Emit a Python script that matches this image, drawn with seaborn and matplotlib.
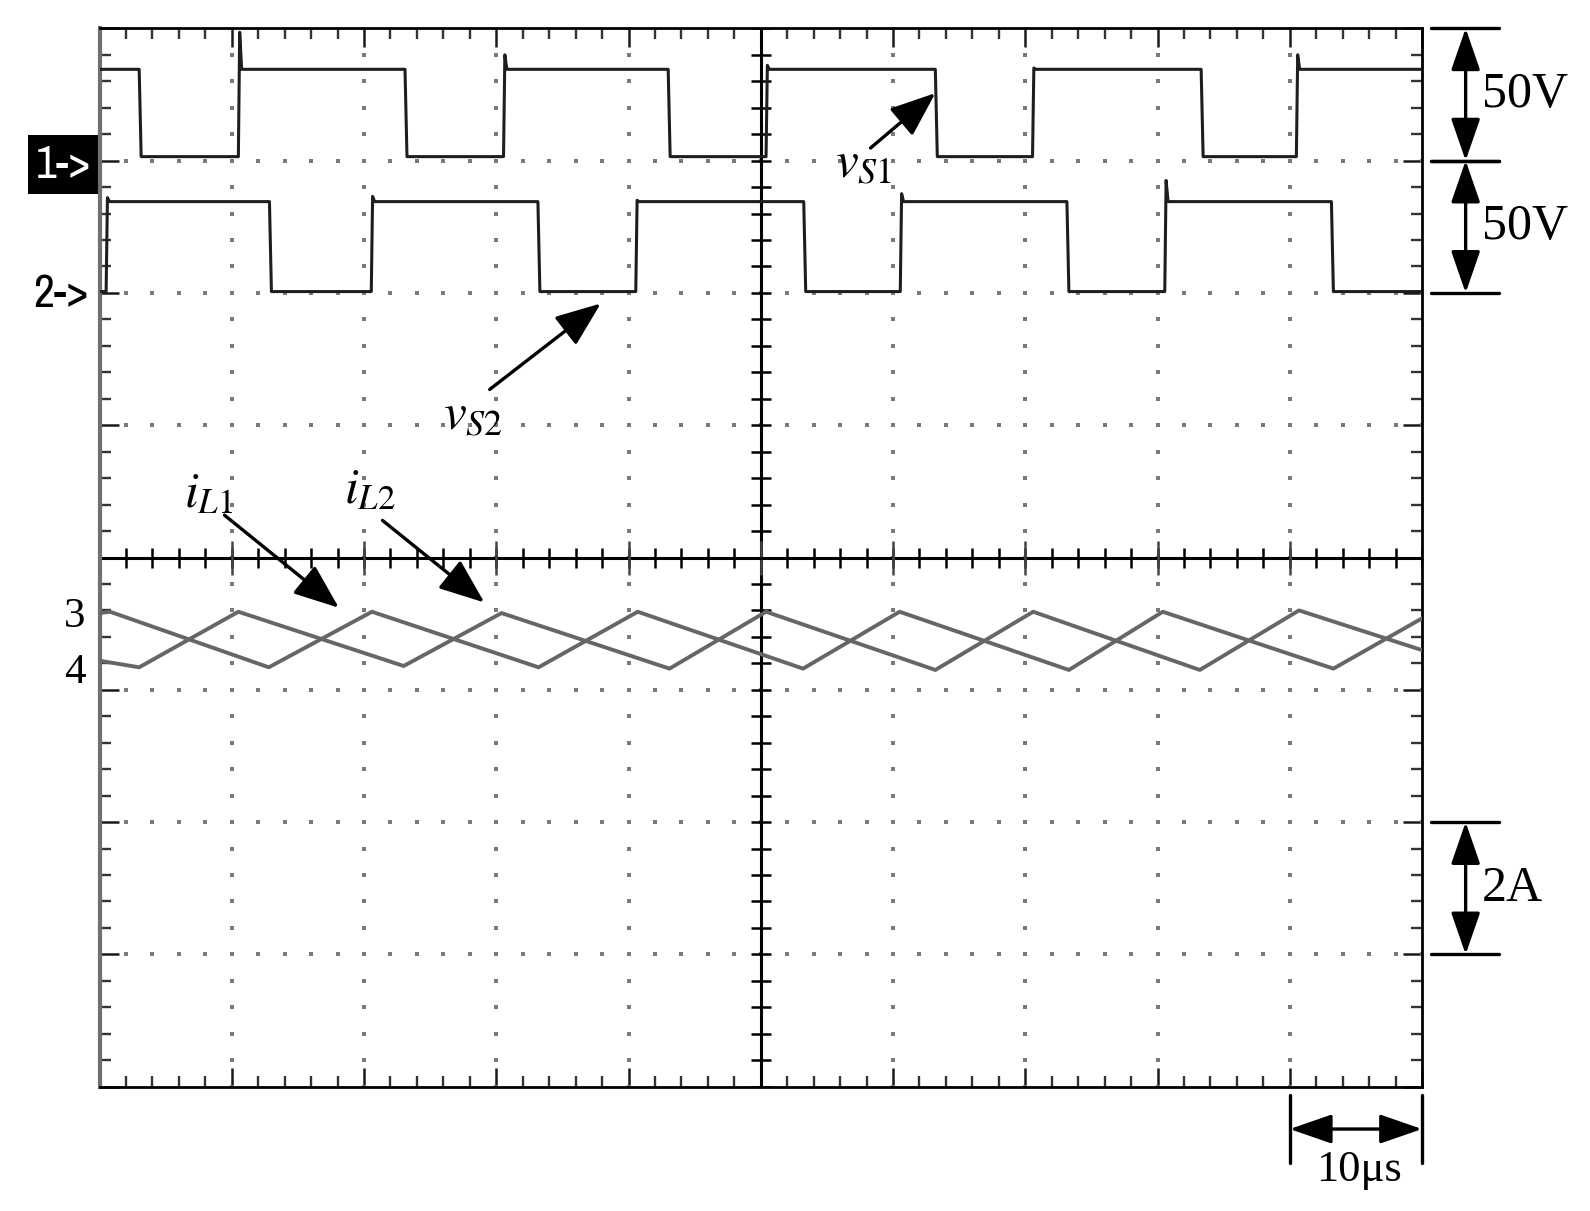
import numpy as np
import pandas as pd
import seaborn as sns
import matplotlib
matplotlib.use("Agg")
import matplotlib.pyplot as plt
from matplotlib.patches import Rectangle
from matplotlib import font_manager

# ---------------- data (time in microseconds, amplitude in screen divisions) -------------
ch1_t = [0.0, 3.0, 3.15, 10.5, 10.6, 10.75, 23.1, 23.25, 30.55, 30.65, 30.8, 43.0, 43.15,
         50.4, 50.5, 50.65, 63.2, 63.35, 70.55, 70.65, 70.8, 83.3, 83.45, 90.5, 90.6, 90.75, 100.0]
ch1_v = [3.69, 3.69, 3.03, 3.03, 3.97, 3.69, 3.69, 3.03, 3.03, 3.80, 3.69, 3.69, 3.03,
         3.03, 3.72, 3.69, 3.69, 3.03, 3.03, 3.70, 3.69, 3.69, 3.03, 3.03, 3.80, 3.69, 3.69]

ch2_t = [0.0, 0.5, 0.6, 0.75, 12.85, 13.0, 20.55, 20.65, 20.8, 33.15, 33.3, 40.55, 40.65, 40.8,
         53.25, 53.4, 60.55, 60.65, 60.8, 73.15, 73.3, 80.55, 80.65, 80.8, 93.15, 93.3, 100.0]
ch2_v = [2.01, 2.01, 2.72, 2.69, 2.69, 2.01, 2.01, 2.73, 2.69, 2.69, 2.01, 2.01, 2.70, 2.69,
         2.69, 2.01, 2.01, 2.75, 2.69, 2.69, 2.01, 2.01, 2.85, 2.69, 2.69, 2.01, 2.01]

iL1_t = [0.0, 0.8, 12.8, 20.6, 33.2, 40.7, 53.2, 60.5, 73.3, 80.4, 93.3, 100.0]
iL1_v = [-0.42, -0.41, -0.83, -0.41, -0.83, -0.41, -0.84, -0.41, -0.85, -0.41, -0.84, -0.46]

iL2_t = [0.0, 3.0, 10.5, 23.0, 30.4, 43.1, 50.4, 63.2, 70.6, 83.2, 90.7, 100.0]
iL2_v = [-0.78, -0.83, -0.41, -0.82, -0.42, -0.84, -0.41, -0.85, -0.41, -0.85, -0.40, -0.70]

scale_labels = ["50V", "50V", "2A", "10\u03bcs"]
channel_labels = ["1->", "2->", "3", "4"]

# ---------------- style ----------------
sns.set_style("white")
plt.rcParams["font.family"] = ["Liberation Serif", "DejaVu Serif"]
plt.rcParams["mathtext.fontset"] = "stix"
plt.rcParams["text.color"] = "black"

# pick a narrow sans font for the scope channel markers if one is installed
_names = sorted({f.name for f in font_manager.fontManager.ttflist})
_narrow = [n for n in _names if ("Narrow" in n or "Condensed" in n)]
marker_family = [_narrow[0]] if _narrow else ["DejaVu Sans"]

fig = plt.figure(figsize=(15.9, 12.11), dpi=100)
ax = fig.add_axes([0.06258, 0.10264, 0.83176, 0.87399])
ax.set_xlim(0, 100)
ax.set_ylim(-4, 4)

# spines & border ticks
for name, sp in ax.spines.items():
    sp.set_linewidth(2.0)
    sp.set_color("black")
ax.spines["left"].set_color("#707070")
ax.spines["left"].set_linewidth(3.0)
ax.set_xticks(np.arange(0, 101, 10))
ax.set_xticks(np.arange(0, 101, 2), minor=True)
ax.set_yticks(np.arange(-4, 5, 1))
ax.set_yticks(np.arange(-4, 4.01, 0.2), minor=True)
ax.tick_params(which="both", direction="in", top=True, right=True, bottom=True, left=True,
               labelbottom=False, labelleft=False, colors="#1a1a1a")
ax.tick_params(which="major", length=14, width=1.8)
ax.tick_params(which="minor", length=8, width=1.7, colors="#333333")

# dotted graticule
grid_dots = np.arange(-4, 4.01, 0.2)
for xv in [10, 20, 30, 40, 60, 70, 80, 90]:
    ax.scatter(np.full_like(grid_dots, xv), grid_dots, s=6, marker="s", color="#7a7a7a",
               linewidths=0, zorder=1)
grid_dots_x = np.arange(0, 100.1, 2)
for yv in [-3, -2, -1, 1, 2, 3]:
    ax.scatter(grid_dots_x, np.full_like(grid_dots_x, yv), s=6, marker="s", color="#7a7a7a",
               linewidths=0, zorder=1)

# centre cross with ticks
ax.axhline(0, color="black", lw=2.2, zorder=2)
ax.axvline(50, color="black", lw=2.2, zorder=2)
cx = np.arange(0, 100.1, 2)
ax.plot(cx, np.zeros_like(cx), ls="none", marker="|", ms=14, mew=1.8, color="black", zorder=2)
cxm = np.arange(10, 91, 10)
ax.plot(cxm, np.zeros_like(cxm), ls="none", marker="|", ms=24, mew=1.8, color="#444444", zorder=2)
cy = np.arange(-4, 4.01, 0.2)
ax.plot(np.full_like(cy, 50), cy, ls="none", marker="_", ms=14, mew=1.8, color="black", zorder=2)

# ---------------- traces ----------------
for t, v, col, lw in [(ch1_t, ch1_v, "#1e1e1e", 2.2), (ch2_t, ch2_v, "#1e1e1e", 2.2),
                      (iL1_t, iL1_v, "#666666", 2.8), (iL2_t, iL2_v, "#666666", 2.8)]:
    sns.lineplot(x=t, y=v, ax=ax, estimator=None, sort=False, color=col, lw=lw, zorder=3)

# ---------------- annotations ----------------
arrow_kw = dict(arrowstyle="-|>,head_length=1.4,head_width=0.55", mutation_scale=20, lw=2.4,
                color="black", shrinkA=0, shrinkB=0)
dbl_kw = dict(arrowstyle="<|-|>,head_length=1.3,head_width=0.45", mutation_scale=20, lw=2.4,
              color="black", shrinkA=0, shrinkB=0)

ax.text(55.6, 2.87, r"$v_{S1}$", fontsize=37, ha="left", va="baseline", zorder=5)
ax.annotate("", xy=(63.2, 3.51), xytext=(58.3, 3.095), arrowprops=arrow_kw, zorder=5)
ax.text(26.0, 0.97, r"$v_{S2}$", fontsize=37, ha="left", va="baseline", zorder=5)
ax.annotate("", xy=(37.9, 1.92), xytext=(29.5, 1.27), arrowprops=arrow_kw, zorder=5)
ax.text(6.4, 0.38, r"$i_{L1}$", fontsize=36, ha="left", va="baseline", zorder=5)
ax.annotate("", xy=(18.1, -0.38), xytext=(9.45, 0.32), arrowprops=arrow_kw, zorder=5)
ax.text(18.5, 0.41, r"$i_{L2}$", fontsize=36, ha="left", va="baseline", zorder=5)
ax.annotate("", xy=(29.1, -0.34), xytext=(21.4, 0.28), arrowprops=arrow_kw, zorder=5)

# scale bars (right side)
for y0, y1 in [(4.0, 3.0), (3.0, 2.0), (-2.0, -3.0)]:
    for yy in (y0, y1):
        ax.plot([100.7, 105.8], [yy, yy], color="black", lw=2.4, clip_on=False)
    ax.annotate("", xy=(103.3, y1), xytext=(103.3, y0), arrowprops=dbl_kw, annotation_clip=False)
ax.text(104.5, 3.50, scale_labels[0], fontsize=36, ha="left", va="center")
ax.text(104.5, 2.50, scale_labels[1], fontsize=36, ha="left", va="center")
ax.text(104.5, -2.50, scale_labels[2], fontsize=36, ha="left", va="center")

# time scale bar (bottom right)
for xx in (90, 100):
    ax.plot([xx, xx], [-4.06, -4.58], color="black", lw=2.4, clip_on=False)
ax.annotate("", xy=(100, -4.32), xytext=(90, -4.32), arrowprops=dbl_kw, annotation_clip=False)
ax.text(95.2, -4.63, scale_labels[3], fontsize=32, ha="center", va="center")

# channel markers (left side)
ax.add_patch(Rectangle((-5.41, 2.75), 5.41, 0.44, facecolor="black", edgecolor="none",
                       clip_on=False, transform=ax.transData))
ax.text(-2.75, 2.965, channel_labels[0], fontsize=33, fontweight="bold", color="white",
        family=marker_family, ha="center", va="center")
ax.text(-2.9, 1.99, channel_labels[1], fontsize=33, fontweight="bold", color="black",
        family=marker_family, ha="center", va="center")
ax.text(-1.85, -0.45, channel_labels[2], fontsize=31, ha="center", va="center")
ax.text(-1.85, -0.87, channel_labels[3], fontsize=31, ha="center", va="center")

fig.savefig("out.png", dpi=100)
